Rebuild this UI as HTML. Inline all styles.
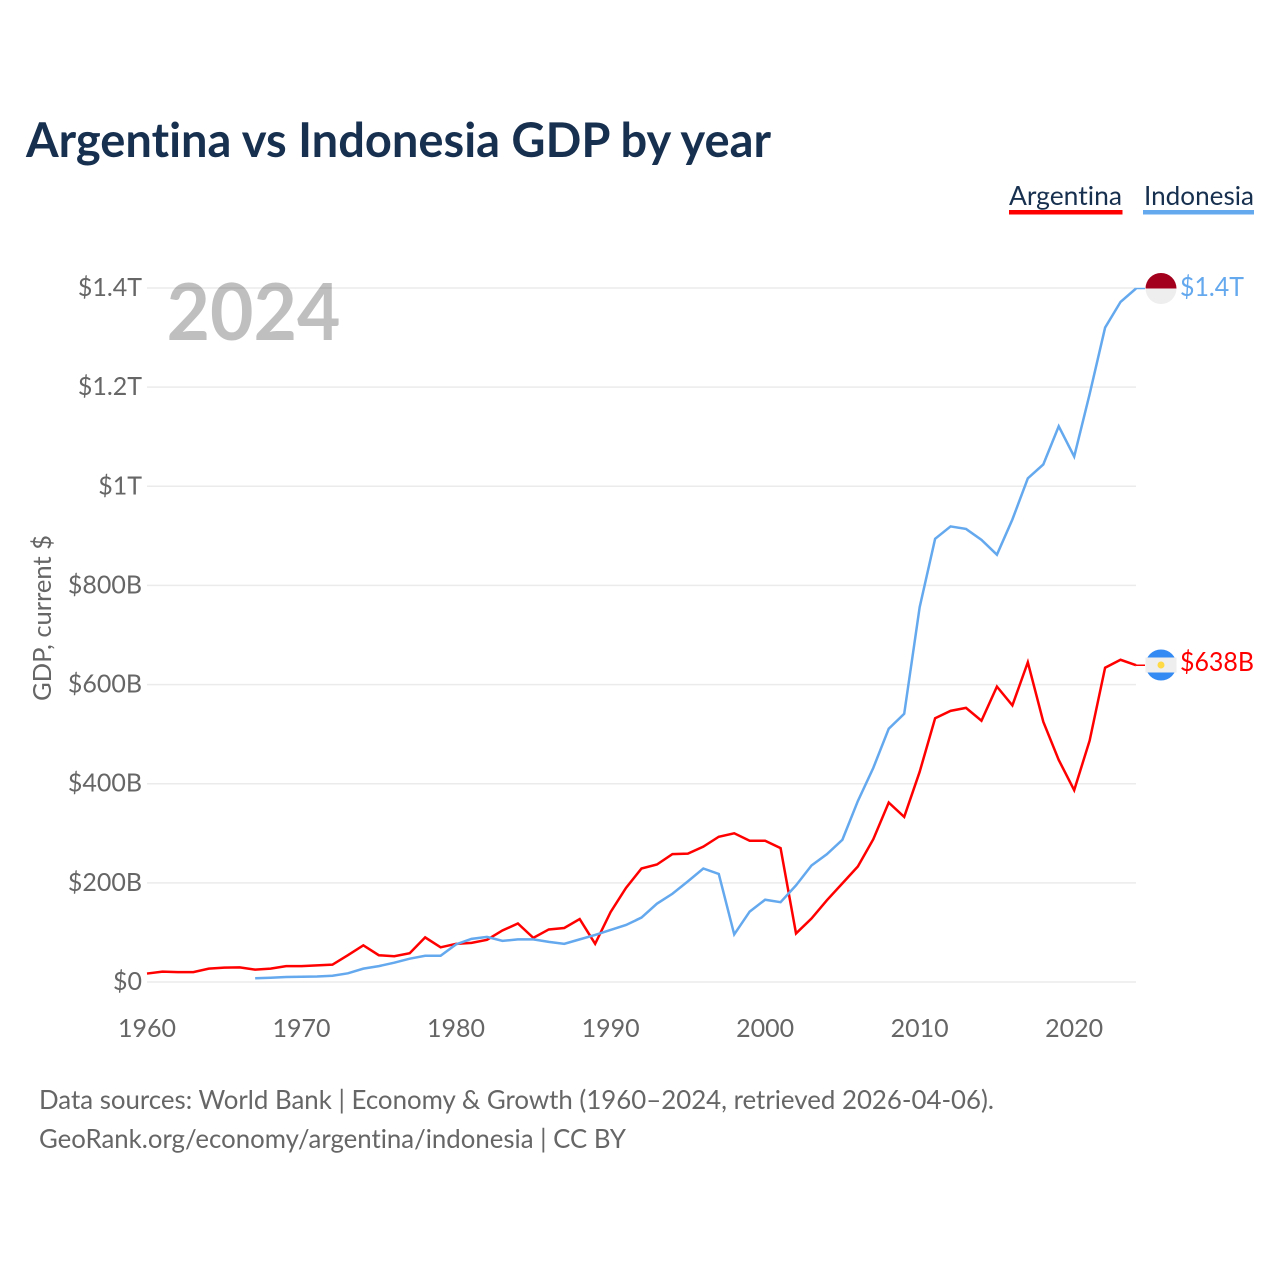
<!DOCTYPE html>
<html lang="en">
<head>
<meta charset="utf-8">
<title>Argentina vs Indonesia GDP by year</title>
<style>
html,body{margin:0;padding:0;background:#fff;width:1280px;height:1280px;overflow:hidden}
svg{display:block}
text{font-family:"Lato","Carlito","Liberation Sans",sans-serif;font-variant-ligatures:none;font-feature-settings:"liga" 0,"clig" 0}
.tick{font-size:25px;fill:#666}
</style>
</head>
<body>
<svg id="chart" width="1280" height="1280" viewBox="0 0 1280 1280" xmlns="http://www.w3.org/2000/svg">
  <text x="26" y="157" font-size="48" font-weight="700" fill="#17304f" textLength="745" lengthAdjust="spacingAndGlyphs">Argentina vs Indonesia GDP by year</text>

  <g>
    <text x="1009" y="205" font-size="26" fill="#17304f" textLength="113" lengthAdjust="spacingAndGlyphs">Argentina</text>
    <rect x="1009" y="210" width="113.500" height="4.500" fill="#ff0000"/>
  </g>
  <g>
    <text x="1144" y="205" font-size="26" fill="#17304f" textLength="110" lengthAdjust="spacingAndGlyphs">Indonesia</text>
    <rect x="1143" y="210" width="111" height="4.500" fill="#64a8ee"/>
  </g>

  <g id="grid"></g>

  <text x="166.500" y="340" font-size="79" font-weight="700" fill="#000" fill-opacity="0.25" textLength="174" lengthAdjust="spacingAndGlyphs">2024</text>

  <g id="yLabels"></g>
  <g id="xLabels"></g>

  <text transform="translate(51,701) rotate(-90)" x="0" y="0" font-size="25" fill="#666" textLength="166" lengthAdjust="spacingAndGlyphs">GDP, current $</text>

  <polyline id="lineArgentina" fill="none" stroke="#ff0000" stroke-width="2.500" stroke-linejoin="miter"/>
  <polyline id="lineIndonesia" fill="none" stroke="#64a8ee" stroke-width="2.500" stroke-linejoin="miter"/>
  <line id="connectorArgentina" stroke="#ff0000" stroke-width="1.500"/>
  <line id="connectorIndonesia" stroke="#64a8ee" stroke-width="1.500"/>

  <g id="flagIndonesia">
    <path d="M0 0A15.500 15.500 0 0 1 31 0Z" fill="#a2001d" transform="translate(1145.500,288.500)"/>
    <path d="M0 0A15.500 15.500 0 0 0 31 0Z" fill="#eeeeee" transform="translate(1145.500,288.500)"/>
  </g>
  <g id="flagArgentina">
    <circle cx="1161" cy="665" r="15.500" fill="#338af3"/>
    <rect x="1145.500" y="657.500" width="31" height="15" fill="#eeeeee"/>
    <circle cx="1161" cy="665" r="3.500" fill="#ffda44"/>
  </g>

  <text id="endIndonesia" x="1180" y="296" font-size="26" fill="#64a8ee" textLength="64" lengthAdjust="spacingAndGlyphs">$1.4T</text>
  <text id="endArgentina" x="1180" y="671" font-size="26" fill="#ff0000" textLength="74" lengthAdjust="spacingAndGlyphs">$638B</text>

  <text x="39" y="1109" font-size="26" fill="#666" textLength="955" lengthAdjust="spacingAndGlyphs">Data sources: World Bank | Economy &amp; Growth (1960–2024, retrieved 2026-04-06).</text>
  <text x="39" y="1148" font-size="26" fill="#666" textLength="587" lengthAdjust="spacingAndGlyphs">GeoRank.org/economy/argentina/indonesia | CC BY</text>
</svg>
<script>
// Values are in billions of current US dollars.
const argentinaStartYear = 1960;
const argentinaValues = [17,21,20,20,27,29,29.5,25,27,32,32,33.5,35,54,74,54,52,58,90,70,77,79,85,104,118,89,106,109,127,77,141,190,229,237,258,259,273,293,300,285,285,270,98,128,165,199,233,288,362,333,424,532,547,553,527,596,558,645,525,448,387,487,634,650,639];
const indonesiaStartYear = 1967;
const indonesiaValues = [7.5,8.5,10,10.5,11,12.7,17.5,27,32,39,47,53,53,76,87,91,83,86,86,81,77,86,95,105,115,130,158,178,203,229,218,96,142,166,161,195,235,258,287,365,432,511,541,756,894,919,914,892,862,933,1016,1044,1121,1060,1186,1320,1372,1399];
const yTickValues = [0,200,400,600,800,1000,1200,1400];
const yTickLabels = ["$0","$200B","$400B","$600B","$800B","$1T","$1.2T","$1.4T"];
const xTickYears = [1960,1970,1980,1990,2000,2010,2020];

const NS = 'http://www.w3.org/2000/svg';
function xScale(year){ return 147 + (year - 1960) * (1136 - 147) / 64; }
function yScale(v){ return 982 - v * (982 - 288) / 1400; }
function linePoints(values, startYear){
  return values.map(function(v, i){
    return xScale(startYear + i).toFixed(2) + ',' + yScale(v).toFixed(2);
  }).join(' ');
}
function setConnector(id, values){
  const c = document.getElementById(id);
  const y = yScale(values[values.length - 1]);
  c.setAttribute('x1', xScale(2024));
  c.setAttribute('x2', xScale(2024) + 9);
  c.setAttribute('y1', y);
  c.setAttribute('y2', y);
}

const grid = document.getElementById('grid');
const yLabels = document.getElementById('yLabels');
yTickValues.forEach(function(v, i){
  const ln = document.createElementNS(NS, 'line');
  
  
  ln.setAttribute('x1', xScale(1960));
  ln.setAttribute('x2', xScale(2024));
  ln.setAttribute('y1', yScale(v));
  ln.setAttribute('y2', yScale(v));
  ln.setAttribute('stroke', '#ebebeb');
  ln.setAttribute('stroke-width', '1.500');
  grid.appendChild(ln);
  const t = document.createElementNS(NS, 'text');
  
  
  t.setAttribute('class', 'tick');
  t.setAttribute('x', 142);
  t.setAttribute('y', yScale(v) + 8);
  t.setAttribute('text-anchor', 'end');
  t.textContent = yTickLabels[i];
  yLabels.appendChild(t);
});

const xLabels = document.getElementById('xLabels');
xTickYears.forEach(function(year){
  const t = document.createElementNS(NS, 'text');
  
  
  t.setAttribute('class', 'tick');
  t.setAttribute('x', xScale(year));
  t.setAttribute('y', 1037);
  t.setAttribute('text-anchor', 'middle');
  t.textContent = String(year);
  xLabels.appendChild(t);
});

document.getElementById('lineArgentina').setAttribute('points', linePoints(argentinaValues, argentinaStartYear));
document.getElementById('lineIndonesia').setAttribute('points', linePoints(indonesiaValues, indonesiaStartYear));
setConnector('connectorArgentina', argentinaValues);
setConnector('connectorIndonesia', indonesiaValues);
</script>
</body>
</html>
